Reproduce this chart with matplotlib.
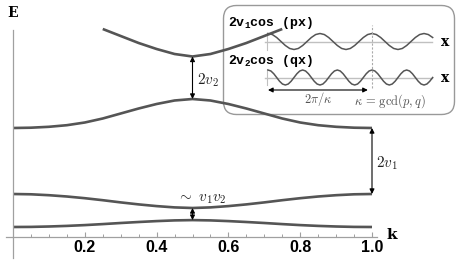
import numpy as np
import matplotlib.pyplot as plt
from matplotlib.patches import FancyBboxPatch

plt.rcParams['mathtext.fontset'] = 'cm'
plt.rcParams['mathtext.rm'] = 'Liberation Mono:bold'
plt.rcParams['mathtext.bf'] = 'Liberation Mono:bold'
plt.rcParams['mathtext.it'] = 'Liberation Mono:bold'

# band structure, k from 0 to 1 in steps of 0.05 (E in arbitrary units)
k = [0.0, 0.05, 0.1, 0.15, 0.2, 0.25, 0.3, 0.35, 0.4, 0.45, 0.5,
     0.55, 0.6, 0.65, 0.7, 0.75, 0.8, 0.85, 0.9, 0.95, 1.0]
band1 = [1.0, 1.01, 1.05, 1.11, 1.19, 1.29, 1.4, 1.5, 1.59, 1.66, 1.69,
         1.66, 1.59, 1.5, 1.4, 1.29, 1.19, 1.11, 1.05, 1.01, 1.0]
band2 = [4.3, 4.27, 4.18, 4.05, 3.88, 3.68, 3.46, 3.26, 3.09, 2.96, 2.9,
         2.96, 3.09, 3.26, 3.46, 3.68, 3.88, 4.05, 4.18, 4.27, 4.3]
band3 = [10.9, 10.93, 11.02, 11.18, 11.45, 11.85, 12.35, 12.85, 13.3, 13.65, 13.8,
         13.65, 13.3, 12.85, 12.35, 11.85, 11.45, 11.18, 11.02, 10.93, 10.9]
k4 = [0.25, 0.3, 0.35, 0.4, 0.45, 0.5, 0.55, 0.6, 0.65, 0.7, 0.75]
band4 = [20.8, 20.1, 19.4, 18.8, 18.3, 18.05, 18.3, 18.8, 19.4, 20.1, 20.8]

xticks = [0.2, 0.4, 0.6, 0.8, 1.0]
xtick_labels = ['0.2', '0.4', '0.6', '0.8', '1.0']

# inset waves, sampled every 30 degrees of their own phase
wave1 = [1, .87, .5, 0, -.5, -.87, -1, -.87, -.5, 0, .5, .87,
         1, .87, .5, 0, -.5, -.87, -1, -.87, -.5, 0, .5, .87,
         1, .87, .5, 0, -.5, -.87, -1, -.87, -.5, 0, .5, .87,
         1, .87, .5]
wave2 = [1, .87, .5, 0, -.5, -.87, -1, -.87, -.5, 0, .5, .87,
         1, .87, .5, 0, -.5, -.87, -1, -.87, -.5, 0, .5, .87,
         1, .87, .5, 0, -.5, -.87, -1, -.87, -.5, 0, .5, .87,
         1, .87, .5, 0, -.5, -.87, -1, -.87, -.5, 0, .5, .87,
         1, .87, .5, 0, -.5, -.87, -1, -.87, -.5, 0]
p, q = 2, 3

line_col = '#555555'
axis_col = '#a0a0a0'
label_font = 'DejaVu Serif'

fig = plt.figure(figsize=(4.63, 2.69), dpi=100)
ax = fig.add_axes([0, 0, 1, 1])
ax.set_xlim(-13 / 359, 450 / 359)
ax.set_ylim(-3.2, 23.7)
ax.patch.set_visible(False)
ax.set_zorder(2)

for s in ['top', 'right']:
    ax.spines[s].set_visible(False)
ax.spines['bottom'].set_position(('data', 0))
ax.spines['left'].set_position(('data', 0))
ax.spines['bottom'].set_bounds(-0.02, 1.014)
ax.spines['left'].set_bounds(-2.1, 20.7)
for s in ['bottom', 'left']:
    ax.spines[s].set_color(axis_col)
    ax.spines[s].set_linewidth(0.9)

ax.set_yticks([])
ax.set_xticks(xticks)
ax.set_xticklabels(xtick_labels, family='Liberation Sans', weight='bold', fontsize=11.5)
ax.set_xticks([m / 20 for m in range(1, 20) if m % 4 != 0], minor=True)
ax.tick_params(axis='x', which='major', direction='in', length=3.5, width=0.8,
               color=axis_col, pad=2.5)
ax.tick_params(axis='x', which='minor', direction='in', length=2, width=0.7,
               color=axis_col)

for band in [band1, band2, band3]:
    ax.plot(k, band, color=line_col, lw=1.9, solid_capstyle='butt')
ax.plot(k4, band4, color=line_col, lw=1.9, solid_capstyle='butt')

arrow = dict(arrowstyle='<|-|>', color='black', lw=0.8, mutation_scale=7,
             shrinkA=0, shrinkB=0)
ax.annotate('', xy=(0.5, band4[5]), xytext=(0.5, band3[10]), arrowprops=arrow)
ax.annotate('', xy=(1.0, band3[-1]), xytext=(1.0, band2[-1]), arrowprops=arrow)
ax.annotate('', xy=(0.5, band2[10]), xytext=(0.5, band1[10]), arrowprops=arrow)

ax.text(0.513, 15.7, r'$2v_2$', fontsize=11, ha='left', va='center', color='#222222')
ax.text(1.012, 7.4, r'$2v_1$', fontsize=11, ha='left', va='center', color='#222222')
ax.text(0.527, 3.85, r'$\sim\ v_1 v_2$', fontsize=11, ha='center', va='center',
        color='#222222')
ax.text(0.0, 22.4, 'E', family=label_font, weight='bold', fontsize=10,
        ha='center', va='center')
ax.text(1.056, 0.2, 'k', family=label_font, weight='bold', fontsize=11,
        ha='center', va='center')

# inset, in pixel units
axi = fig.add_axes([223 / 463, 154 / 269, 232 / 463, 110 / 269])
axi.set_xlim(0, 232)
axi.set_ylim(0, 110)
axi.axis('off')
axi.set_zorder(1)
axi.add_patch(FancyBboxPatch((0.5, 0.5), 231, 109, boxstyle='round,pad=0,rounding_size=13',
                             ec='#999999', fc='white', lw=1, clip_on=False))

x0, period = 45, 104
c1, a1 = 73.5, 8
c2, a2 = 37.5, 7.5
xw1 = x0 + period * np.arange(len(wave1)) / (12 * p)
xw2 = x0 + period * np.arange(len(wave2)) / (12 * q)
for xw, w, c, a in [(xw1, wave1, c1, a1), (xw2, wave2, c2, a2)]:
    axi.plot([x0 - 3, 209], [c, c], color='#c0c0c0', lw=1)
    axi.plot([x0 - 1, x0 - 1], [c - a, c + a + 1], color='#c0c0c0', lw=0.8)
    axi.plot(xw, c + a * np.array(w), color=line_col, lw=1.1)
    axi.text(222, c, 'x', family=label_font, weight='bold', fontsize=10,
             ha='center', va='center')

axi.plot([x0 + period, x0 + period], [27, 90], color='#aaaaaa', lw=0.8, ls=(0, (2, 1.5)))
axi.annotate('', xy=(x0 + 0.96 * period, 25), xytext=(x0, 25), arrowprops=arrow)
axi.text(x0 + 0.48 * period, 16.5, r'$2\pi/\kappa$', fontsize=9, ha='center',
         va='center', color='#555555')
axi.text(167, 14, r'$\kappa\, =\, \mathrm{gcd}(p, q)$', fontsize=9, ha='center',
         va='center', color='#555555')
axi.text(5, 92, r'2v$_\mathbf{1}$cos (px)', family='Liberation Mono', weight='bold',
         fontsize=9.5, ha='left', va='center', math_fontfamily='custom')
axi.text(5, 54, r'2v$_\mathbf{2}$cos (qx)', family='Liberation Mono', weight='bold',
         fontsize=9.5, ha='left', va='center', math_fontfamily='custom')

fig.savefig('out.png', dpi=100)
